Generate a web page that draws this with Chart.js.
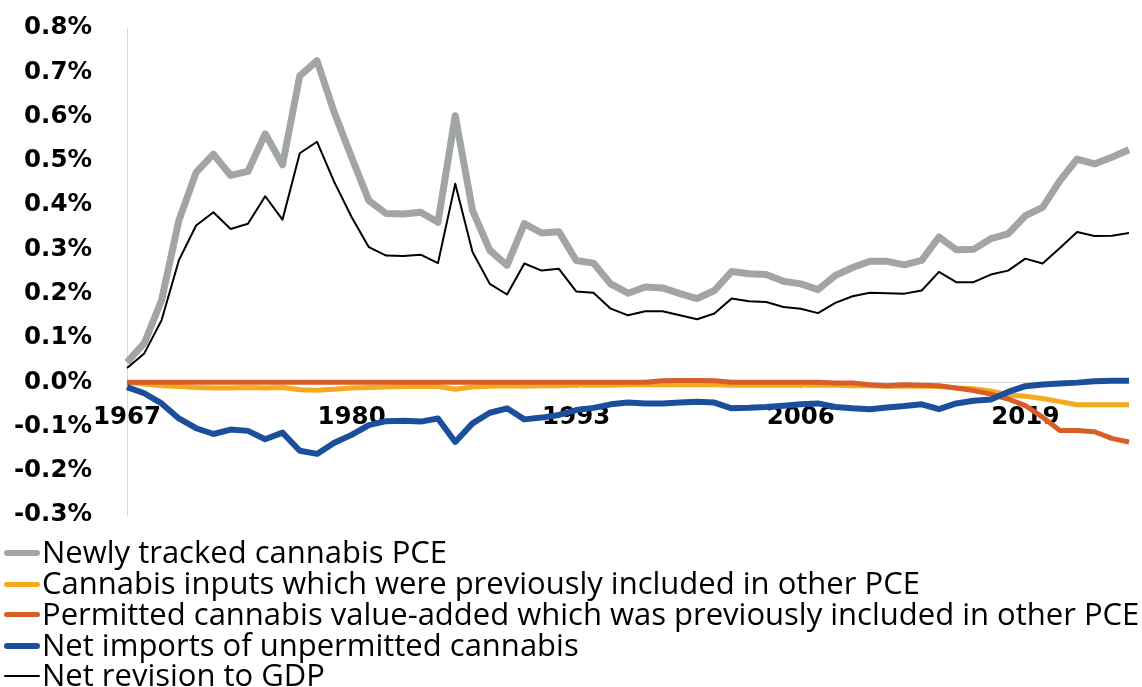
<!DOCTYPE html>
<html>
<head>
<meta charset="utf-8">
<script src="https://cdn.jsdelivr.net/npm/chart.js@4"></script>
<style>
body { margin: 0; background: #fff; }
#wrap { position: relative; width: 1142px; height: 687px; overflow: hidden; }
#chartBox { position: absolute; left: 0; top: 0; width: 1142px; height: 566px; }
#legenda { position: absolute; left: 4px; top: 538px; font-family: "Open Sans"; font-size: 31px; color: #000; }
.item { height: 30.75px; display: flex; align-items: center; white-space: nowrap; }
.item span { position: relative; top: -2px; }
.swatch { width: 36px; margin-right: 2px; border-radius: 3px; flex: none; }
</style>
</head>
<body>
<div id="wrap">
  <div id="chartBox"><canvas id="grafico"></canvas></div>
  <div id="legenda"></div>
</div>
<script>
var Anos = [1967, 1968, 1969, 1970, 1971, 1972, 1973, 1974, 1975, 1976,
    1977, 1978, 1979, 1980, 1981, 1982, 1983, 1984, 1985, 1986,
    1987, 1988, 1989, 1990, 1991, 1992, 1993, 1994, 1995, 1996,
    1997, 1998, 1999, 2000, 2001, 2002, 2003, 2004, 2005, 2006,
    2007, 2008, 2009, 2010, 2011, 2012, 2013, 2014, 2015, 2016,
    2017, 2018, 2019, 2020, 2021, 2022, 2023, 2024, 2025];

// percent of GDP
var NovoPCE = [0.045, 0.088, 0.185, 0.365, 0.474, 0.515, 0.467, 0.476, 0.561, 0.491,
    0.692, 0.726, 0.609, 0.508, 0.41, 0.381, 0.38, 0.384, 0.361, 0.602,
    0.388, 0.298, 0.264, 0.358, 0.337, 0.34, 0.275, 0.269, 0.222, 0.201,
    0.215, 0.213, 0.2, 0.189, 0.207, 0.25, 0.245, 0.243, 0.228, 0.222,
    0.209, 0.241, 0.259, 0.273, 0.273, 0.265, 0.275, 0.328, 0.299, 0.3,
    0.324, 0.335, 0.376, 0.395, 0.455, 0.504, 0.493, 0.508, 0.525];

var Insumos = [0, -0.004, -0.008, -0.01, -0.012, -0.013, -0.013, -0.012, -0.013, -0.012,
    -0.017, -0.018, -0.016, -0.013, -0.012, -0.011, -0.01, -0.01, -0.01, -0.016,
    -0.011, -0.009, -0.008, -0.009, -0.008, -0.008, -0.007, -0.007, -0.007, -0.006,
    -0.006, -0.006, -0.006, -0.006, -0.006, -0.007, -0.007, -0.007, -0.007, -0.007,
    -0.007, -0.007, -0.008, -0.008, -0.009, -0.009, -0.009, -0.01, -0.013, -0.015,
    -0.02, -0.029, -0.032, -0.037, -0.044, -0.051, -0.051, -0.051, -0.051];

var ValorAdicionado = [0, 0, 0, 0, 0, 0, 0, 0, 0, 0,
    0, 0, 0, 0, 0, 0, 0, 0, 0, 0,
    0, 0, 0, 0, 0, 0, 0, 0, 0, 0,
    0, 0.003, 0.004, 0.004, 0.003, 0, 0, 0, 0, 0,
    0, -0.002, -0.002, -0.006, -0.008, -0.006, -0.007, -0.008, -0.013, -0.019,
    -0.027, -0.038, -0.053, -0.079, -0.109, -0.109, -0.112, -0.127, -0.135];

var Importacoes = [-0.011, -0.025, -0.048, -0.082, -0.104, -0.117, -0.107, -0.11, -0.129, -0.114,
    -0.155, -0.162, -0.137, -0.119, -0.097, -0.088, -0.087, -0.089, -0.082, -0.135,
    -0.093, -0.069, -0.059, -0.084, -0.08, -0.074, -0.063, -0.058, -0.05, -0.046,
    -0.048, -0.048, -0.046, -0.044, -0.046, -0.059, -0.058, -0.056, -0.053, -0.05,
    -0.048, -0.056, -0.059, -0.061, -0.057, -0.054, -0.05, -0.061, -0.048, -0.042,
    -0.039, -0.022, -0.009, -0.005, -0.003, -0.001, 0.002, 0.003, 0.003];

var RevisaoPIB = [0.032, 0.065, 0.14, 0.275, 0.354, 0.384, 0.346, 0.358, 0.42, 0.367,
    0.517, 0.543, 0.452, 0.373, 0.305, 0.286, 0.285, 0.288, 0.269, 0.448,
    0.294, 0.222, 0.198, 0.268, 0.252, 0.256, 0.205, 0.202, 0.166, 0.151,
    0.16, 0.16, 0.151, 0.142, 0.155, 0.189, 0.183, 0.181, 0.17, 0.166,
    0.156, 0.179, 0.194, 0.202, 0.201, 0.2, 0.207, 0.249, 0.226, 0.226,
    0.243, 0.252, 0.279, 0.268, 0.303, 0.339, 0.33, 0.331, 0.337];

var Nomes = ["Newly tracked cannabis PCE",
    "Cannabis inputs which were previously included in other PCE",
    "Permitted cannabis value-added which was previously included in other PCE",
    "Net imports of unpermitted cannabis",
    "Net revision to GDP"];

var Fonte = { family: "DejaVu Sans", weight: "bold", size: 24.5 };

function Serie(nome, dados, cor, largura, ordem) {
    return {
        label: nome,
        data: dados,
        borderColor: cor,
        backgroundColor: cor,
        borderWidth: largura,
        borderJoinStyle: "round",
        pointRadius: 0,
        pointHoverRadius: 0,
        tension: 0,
        fill: false,
        order: ordem
    };
}

var grafico = new Chart(document.getElementById("grafico"), {
    type: "line",
    data: {
        labels: Anos,
        datasets: [
            Serie(Nomes[0], NovoPCE, "#A2A5A5", 7, 5),
            Serie(Nomes[1], Insumos, "#F4A91F", 5, 4),
            Serie(Nomes[2], ValorAdicionado, "#D85E27", 5, 3),
            Serie(Nomes[3], Importacoes, "#1B4F9C", 6, 2),
            Serie(Nomes[4], RevisaoPIB, "#000000", 2, 1)
        ]
    },
    options: {
        responsive: true,
        maintainAspectRatio: false,
        animation: false,
        layout: { padding: { top: 28, right: 13, bottom: 51, left: 0 } },
        plugins: {
            legend: { display: false },
            tooltip: { enabled: false }
        },
        scales: {
            x: {
                position: { y: 0 },
                offset: false,
                grid: { display: true, drawOnChartArea: false, drawTicks: true, tickLength: 6, color: "#d9d9d9" },
                border: { display: true, color: "#d9d9d9", width: 1 },
                ticks: { autoSkip: false, maxRotation: 0, padding: 15, color: "#000", font: Fonte },
                // one label every 13 years
                afterBuildTicks: function (scale) {
                    scale.ticks = scale.ticks.filter(function (t) { return t.value % 13 === 0; });
                }
            },
            y: {
                min: -0.3,
                max: 0.8,
                grid: { display: false, drawTicks: false },
                border: { display: true, color: "#d9d9d9", width: 1 },
                ticks: {
                    stepSize: 0.1,
                    padding: 35,
                    color: "#000",
                    font: Fonte,
                    callback: function (v) {
                        if (Math.abs(v) < 1e-9) { v = 0; }
                        return v.toFixed(1) + "%";
                    }
                },
                // fixed axis width; the layout padding already leaves room for the end labels
                afterFit: function (scale) {
                    scale.width = 127;
                    scale.paddingTop = 0;
                    scale.paddingBottom = 0;
                }
            }
        }
    }
});

// legend, one series per line
function MontarLegenda() {
    var html = "";
    grafico.data.datasets.forEach(function (ds) {
        var altura = Math.min(ds.borderWidth, 6);
        html += "<div class='item'><div class='swatch' style='height:" + altura + "px;background:" + ds.borderColor + "'></div>" +
            "<span>" + ds.label + "</span></div>";
    });
    document.getElementById("legenda").innerHTML = html;
}

MontarLegenda();
</script>
</body>
</html>
